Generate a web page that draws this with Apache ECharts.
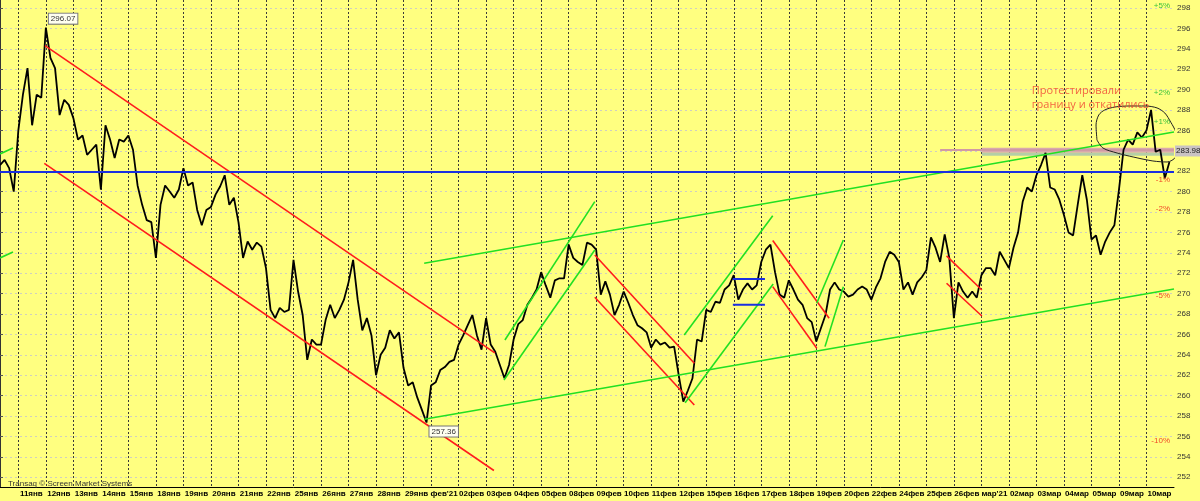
<!DOCTYPE html>
<html><head><meta charset="utf-8">
<script src="https://cdn.jsdelivr.net/npm/echarts@6/dist/echarts.min.js"></script>
<style>html,body{margin:0;padding:0;background:#ffff80}#c{width:1200px;height:501px}</style>
</head><body><div id="c"></div>
<script>
// ---- data ----
const days = ['11янв','12янв','13янв','14янв','15янв','18янв','19янв','20янв','21янв','22янв','25янв','26янв','27янв','28янв','29янв',"фев'21",'02фев','03фев','04фев','05фев','08фев','09фев','10фев','11фев','12фев','15фев','16фев','17фев','18фев','19фев','20фев','22фев','24фев','25фев','26фев',"мар'21",'02мар','03мар','04мар','05мар','09мар','10мар'];
const barsPerDay = 6;
const leadBars = 4;
const totalSlots = 257;
const prices = [
282.6,283.1,282.3,280.0,
286.0,289.5,292.1,286.5,289.5,289.2,
296.07,293.1,292.1,287.5,289.0,288.5,
287.2,285.1,285.5,283.6,284.1,284.6,
280.2,286.5,285.1,283.3,285.1,284.9,
285.5,284.1,280.6,278.7,277.2,277.0,
273.5,278.7,280.6,280.0,279.4,280.2,
282.3,280.6,280.9,278.2,276.7,278.2,
278.5,279.7,280.5,281.6,278.7,279.4,
277.0,273.5,275.1,274.3,275.0,274.6,
272.5,268.4,267.6,268.6,268.2,268.4,
273.3,270.2,267.9,263.5,265.5,265.0,
265.0,267.4,268.9,267.6,268.4,269.4,
271.1,273.3,269.4,266.4,267.6,265.9,
262.0,264.0,264.7,266.4,265.6,266.2,
262.7,261.0,261.3,259.8,258.6,257.36,
261.0,261.3,262.5,262.8,263.3,263.5,
265.0,265.9,266.9,267.9,265.9,264.5,
267.6,265.0,264.3,263.0,261.7,263.0,
265.5,267.0,267.4,268.9,269.6,270.4,
272.1,270.8,269.6,271.3,271.5,271.5,
274.8,273.5,273.1,272.8,275.0,274.8,
274.3,269.9,271.2,269.9,267.9,268.9,
270.2,269.1,267.9,266.9,266.6,266.2,
264.7,265.5,265.0,265.2,264.7,264.8,
262.0,259.4,260.5,261.7,265.5,265.3,
268.4,268.2,269.2,269.1,270.4,270.8,
271.8,269.4,270.4,271.0,270.4,270.8,
273.1,274.3,274.8,272.1,269.9,269.6,
271.3,270.4,269.4,268.9,267.6,267.2,
265.3,266.6,267.9,270.4,271.1,270.4,
270.2,269.7,269.9,270.4,270.7,270.4,
269.4,270.6,271.5,273.1,274.1,273.8,
273.1,270.4,271.1,269.9,271.1,271.6,
272.3,275.5,274.5,273.1,275.8,273.5,
267.6,271.1,270.2,269.6,270.2,269.6,
271.8,272.5,272.5,271.8,274.1,273.3,
272.5,274.5,276.0,279.0,280.4,280.0,
281.6,282.6,283.8,280.4,280.2,279.2,
277.7,276.0,275.7,278.7,281.6,279.2,
275.3,275.7,273.8,275.1,276.0,276.7,
280.2,284.1,285.1,284.6,285.8,285.3,
286.0,288.0,283.9,284.1,281.3,282.9,
null];
const yTicks = [252,254,256,258,260,262,264,266,268,270,272,274,276,278,280,282,284,286,288,290,292,294,296,298];
const yMin = 251.04, yMax = 298.78;
const lastPrice = 283.98;
const pctLevels = [5,2,1,-1,-2,-5,-10];
const supportLevel = 281.92;
// hand-drawn annotation lines, [barIndex, price]
const redLines = [
  [[9.81,294.30],[107.9,264.18]],
  [[9.66,282.77],[107.7,252.66]],
  [[129.7,273.78],[151.4,263.17]],
  [[129.7,269.64],[151.4,259.08]],
  [[168.5,275.21],[180.8,267.58]],
  [[168.5,270.68],[178.1,264.64]],
  [[206.4,273.69],[214.1,270.35]],
  [[206.4,271.01],[214.1,267.80]]
];
const greenLines = [
  [[92.5,272.97],[256,285.84]],
  [[92.5,257.68],[256,270.45]],
  [[0,283.69],[2.83,284.27]],
  [[0,273.49],[2.83,274.08]],
  [[110.1,265.45],[129.7,279.01]],
  [[109.9,261.53],[129.7,274.27]],
  [[149.2,265.94],[168.5,277.64]],
  [[149.4,259.30],[168.6,270.94]],
  [[178.1,269.05],[183.9,275.25]],
  [[179.9,264.80],[183.9,270.68]]
];
const blueLines = [
  [[159.8,271.43],[166.8,271.43]],
  [[159.8,268.91],[166.8,268.91]]
];
const pinkLine = [[205.0,284.08],[256,284.08]];
const bandStart = 214.1;
const bandPink = [283.81,284.30];
const bandGreen = [283.52,283.81];
const ellipse = [[239.2,285.06],[239.0,286.53],[239.6,287.51],[240.9,288.0],[243.1,288.29],[246.4,288.39],[249.7,288.39],[252.3,288.2],[254.0,287.7],[255.3,286.8],[256.4,285.84],[256.9,284.6],[256.4,283.4],[254.5,282.9],[251.4,283.0],[247.1,283.39],[243.6,283.78],[240.5,284.27],[239.2,285.06]];
const noteText = 'Протестировали\nграницу и откатились';
const notePoint = [225.0, 289.2];
const watermark = 'Transaq © Screen Market Systems';

// ---- build ----
const categories = [];
for (let i = 0; i < totalSlots; i++) {
  const k = i - leadBars;
  categories.push(k >= 0 && k % barsPerDay === 0 && k / barsPerDay < days.length ? days[k / barsPerDay] : '');
}
const isDayStart = (idx, val) => val !== '';
const clear = 'rgba(0,0,0,0)';

const segSeries = (lines, color, width) => lines.map(l => ({
  type: 'line', xAxisIndex: 1, data: l, symbol: 'none', silent: true, animation: false,
  lineStyle: { color: color, width: width }, z: 4
}));

const markLineData = [
  { yAxis: supportLevel, lineStyle: { color: '#1a2fe0', width: 2, type: 'solid' }, label: { show: false } }
].concat(pctLevels.map(p => ({
  yAxis: lastPrice * (1 + p / 100),
  lineStyle: { color: clear, width: 1 },
  label: { show: true, position: 'insideEnd', distance: 4, formatter: (p > 0 ? '+' : '') + p + '%',
    color: p > 0 ? '#3cc23c' : '#f04a28', fontSize: 8, fontFamily: 'Liberation Sans' }
}))).concat([{
  yAxis: lastPrice, lineStyle: { color: clear, width: 1 },
  label: { show: true, position: 'end', distance: 1, formatter: lastPrice.toFixed(2), color: '#222',
    backgroundColor: '#c9c3c3', padding: [2, 1, 1, 1], fontSize: 8, fontFamily: 'Liberation Sans' }
}]);

const chart = echarts.init(document.getElementById('c'), null, { renderer: 'canvas' });
chart.setOption({
  backgroundColor: '#ffff80',
  animation: false,
  grid: { left: 0, right: 26, top: 0, bottom: 14, containLabel: false },
  xAxis: [{
    type: 'category', data: categories, boundaryGap: false,
    axisLine: { show: true, lineStyle: { color: '#000', width: 1 } },
    axisTick: { show: false },
    axisLabel: { interval: isDayStart, color: '#000', fontSize: 8, fontWeight: 'bold', fontFamily: 'Liberation Sans',
      margin: 3, align: 'center', padding: [0, 0, 0, 26] },
    splitLine: { show: true, interval: isDayStart, lineStyle: { color: '#3a3a3a', type: [2, 2], width: 1 } }
  }, {
    type: 'value', min: 0, max: totalSlots - 1, show: false
  }],
  yAxis: {
    type: 'value', position: 'right', min: yMin, max: yMax, scale: true,
    axisLine: { show: true, lineStyle: { color: '#333' } },
    axisTick: { show: true, length: 3, lineStyle: { color: '#555' }, customValues: yTicks },
    axisLabel: { color: '#333', fontSize: 8, fontFamily: 'Liberation Sans', margin: 3, customValues: yTicks },
    splitLine: { show: true, lineStyle: { color: '#cfcfc0', type: [2, 3], width: 1 } }
  },
  graphic: [{
    type: 'text', left: 8, top: 480, z: 10,
    style: { text: watermark, fill: '#333', font: '8px "Liberation Sans"' }
  }],
  series: [
    { type: 'line', xAxisIndex: 1, silent: true, symbol: 'none', data: [[bandStart, bandPink[0]]], z: 1,
      markArea: { silent: true, data: [
        [{ coord: [bandStart, bandPink[0]], itemStyle: { color: '#d9a9ad' } }, { coord: [totalSlots - 1, bandPink[1]] }],
        [{ coord: [bandStart, bandGreen[0]], itemStyle: { color: '#b4cfa6' } }, { coord: [totalSlots - 1, bandGreen[1]] }]
      ] }, lineStyle: { opacity: 0 } },
    { type: 'line', xAxisIndex: 1, data: pinkLine, symbol: 'none', silent: true, z: 1,
      lineStyle: { color: '#d19aa4', width: 2 } },
    {
      type: 'line', data: prices, symbol: 'none', silent: true, z: 3,
      lineStyle: { color: '#000', width: 1.8 },
      markPoint: {
        symbol: 'circle', symbolSize: 0, silent: true,
        data: [
          { type: 'max', label: { position: 'right', distance: 3, offset: [0, -9] } },
          { type: 'min', label: { position: 'right', distance: 3, offset: [0, 9] } }
        ],
        label: { show: true, formatter: p => p.value.toFixed(2), color: '#333', fontSize: 8, fontFamily: 'Liberation Sans',
          backgroundColor: '#fffff0', borderColor: '#777', borderWidth: 1, padding: [1, 2] }
      },
      markLine: { silent: true, symbol: ['none', 'none'], data: markLineData }
    }
  ].concat(segSeries(redLines, '#ff1c1c', 1.6))
   .concat(segSeries(greenLines, '#22e022', 1.6))
   .concat(segSeries(blueLines, '#1a2fe0', 2))
   .concat([{
     type: 'line', xAxisIndex: 1, data: ellipse, symbol: 'none', silent: true, smooth: 0.3, z: 4,
     lineStyle: { color: '#222', width: 1 }
   }, {
     type: 'scatter', xAxisIndex: 1, data: [notePoint], symbolSize: 0, silent: true, z: 5,
     label: { show: true, position: 'right', distance: 0, formatter: noteText, color: '#f03c30',
       fontSize: 11, lineHeight: 14, fontFamily: 'Open Sans', align: 'left' }
   }])
});
</script></body></html>
